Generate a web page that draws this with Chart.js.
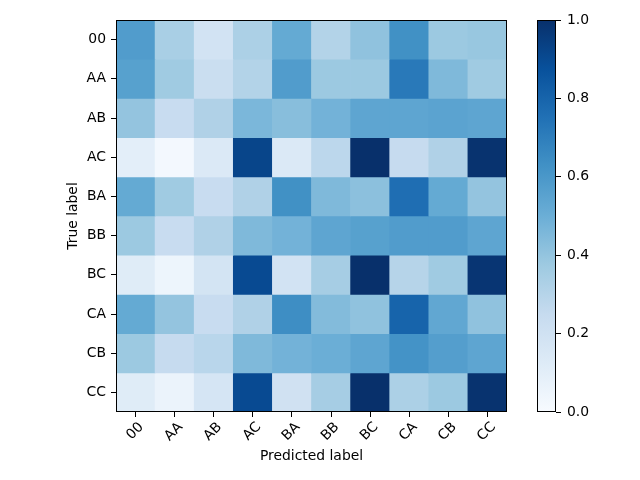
<!DOCTYPE html>
<html>
<head>
<meta charset="utf-8">
<script src="https://cdn.jsdelivr.net/npm/chart.js@4.4.1/dist/chart.umd.min.js"></script>
<style>
  html, body { margin: 0; padding: 0; background: #fff; }
  #wrap { position: relative; width: 640px; height: 480px; }
  #main { position: absolute; left: 0; top: 0; }
  #cbar { position: absolute; left: 520px; top: 0; }
</style>
</head>
<body>
<div id="wrap">
  <canvas id="main" width="640" height="480"></canvas>
  <canvas id="cbar" width="120" height="480"></canvas>
</div>
<script>
// ---- data ----
const predictedLabels = ['00', 'AA', 'AB', 'AC', 'BA', 'BB', 'BC', 'CA', 'CB', 'CC'];
const trueLabels      = ['00', 'AA', 'AB', 'AC', 'BA', 'BB', 'BC', 'CA', 'CB', 'CC'];

const row00 = [0.58, 0.34, 0.19, 0.33, 0.52, 0.31, 0.41, 0.63, 0.38, 0.39];
const rowAA = [0.56, 0.37, 0.23, 0.31, 0.58, 0.38, 0.38, 0.72, 0.45, 0.37];
const rowAB = [0.40, 0.24, 0.32, 0.46, 0.43, 0.48, 0.54, 0.54, 0.55, 0.54];
const rowAC = [0.10, 0.02, 0.14, 0.92, 0.14, 0.28, 1.00, 0.25, 0.32, 0.99];
const rowBA = [0.52, 0.37, 0.24, 0.32, 0.63, 0.45, 0.42, 0.76, 0.52, 0.40];
const rowBB = [0.38, 0.24, 0.32, 0.45, 0.48, 0.54, 0.56, 0.58, 0.58, 0.54];
const rowBC = [0.12, 0.05, 0.18, 0.90, 0.19, 0.35, 1.00, 0.30, 0.37, 0.98];
const rowCA = [0.52, 0.40, 0.24, 0.32, 0.64, 0.44, 0.41, 0.80, 0.53, 0.41];
const rowCB = [0.38, 0.25, 0.29, 0.45, 0.48, 0.50, 0.54, 0.62, 0.57, 0.54];
const rowCC = [0.12, 0.06, 0.17, 0.90, 0.20, 0.35, 1.00, 0.33, 0.38, 0.99];

const rows = [row00, rowAA, rowAB, rowAC, rowBA, rowBB, rowBC, rowCA, rowCB, rowCC];

const colorbarTicks = [0, 0.2, 0.4, 0.6, 0.8, 1.0];

// ---- Blues colormap ----
const bluesStops = [
  [247,251,255],[222,235,247],[198,219,239],[158,202,225],[107,174,214],
  [66,146,198],[33,113,181],[8,81,156],[8,48,107]
];
function blues(v) {
  v = Math.max(0, Math.min(1, v));
  const p = v * (bluesStops.length - 1);
  const i = Math.min(Math.floor(p), bluesStops.length - 2);
  const t = p - i;
  const a = bluesStops[i], b = bluesStops[i + 1];
  const c = a.map((x, k) => Math.round(x + (b[k] - x) * t));
  return `rgb(${c[0]},${c[1]},${c[2]})`;
}

const FONT = { family: 'DejaVu Sans', size: 13.9 };

const framePlugin = {
  id: 'frame',
  afterDraw(chart) {
    const { ctx, chartArea: a } = chart;
    ctx.save();
    ctx.strokeStyle = '#000';
    ctx.lineWidth = 1;
    ctx.strokeRect(Math.round(a.left) + 0.5, Math.round(a.top) + 0.5,
                   Math.round(a.right - a.left) - 1, Math.round(a.bottom - a.top) - 1);
    ctx.restore();
  }
};

// ---- main heatmap ----
const datasets = rows.map((r, i) => ({
  label: trueLabels[i],
  data: r.map(() => [i - 0.5, i + 0.5]),
  backgroundColor: r.map(v => blues(v)),
  borderWidth: 0,
  barPercentage: 1,
  categoryPercentage: 1,
  grouped: false
}));

new Chart(document.getElementById('main'), {
  type: 'bar',
  data: { labels: predictedLabels, datasets },
  plugins: [framePlugin],
  options: {
    responsive: false,
    animation: false,
    events: [],
    layout: { padding: { left: 61, top: 20, right: 133, bottom: 11 } },
    plugins: { legend: { display: false }, tooltip: { enabled: false } },
    scales: {
      x: {
        type: 'category',
        offset: true,
        grid: { offset: false, drawOnChartArea: false, drawTicks: true, tickLength: 5, color: '#000', lineWidth: 1 },
        border: { display: false },
        ticks: { color: '#000', font: FONT, minRotation: 45, maxRotation: 45, padding: 2, labelOffset: 6, autoSkip: false },
        title: { display: true, text: 'Predicted label', color: '#000', font: FONT, padding: { top: 4, bottom: 4 } },
        afterFit(s) { s.height = 57; }
      },
      y: {
        type: 'linear',
        min: -0.5,
        max: 9.5,
        reverse: true,
        grid: { drawOnChartArea: false, drawTicks: true, tickLength: 5, color: '#000', lineWidth: 1 },
        border: { display: false },
        afterBuildTicks(s) { s.ticks = trueLabels.map((_, i) => ({ value: i })); },
        ticks: { color: '#000', font: FONT, padding: 5, callback: (v) => trueLabels[Math.round(v)] },
        title: { display: true, text: 'True label', color: '#000', font: FONT, padding: { top: 4, bottom: 4 } },
        afterFit(s) { s.width = 55; }
      }
    }
  }
});

// ---- colorbar ----
new Chart(document.getElementById('cbar'), {
  type: 'bar',
  data: {
    labels: ['scale'],
    datasets: [{
      data: [[0, 1]],
      borderWidth: 0,
      barPercentage: 1,
      categoryPercentage: 1,
      backgroundColor(ctx) {
        const a = ctx.chart.chartArea;
        if (!a) return blues(0.5);
        const g = ctx.chart.ctx.createLinearGradient(0, a.bottom, 0, a.top);
        bluesStops.forEach((c, k) => g.addColorStop(k / (bluesStops.length - 1), `rgb(${c[0]},${c[1]},${c[2]})`));
        return g;
      }
    }]
  },
  plugins: [framePlugin],
  options: {
    responsive: false,
    animation: false,
    events: [],
    layout: { padding: { left: 17, top: 20, right: 0, bottom: 68 } },
    plugins: { legend: { display: false }, tooltip: { enabled: false } },
    scales: {
      x: { display: false },
      y: {
        position: 'right',
        min: 0,
        max: 1,
        afterBuildTicks(s) { s.ticks = colorbarTicks.map(v => ({ value: v })); },
        grid: { drawOnChartArea: false, drawTicks: true, tickLength: 5, color: '#000', lineWidth: 1 },
        border: { display: false },
        ticks: { color: '#000', font: FONT, padding: 6, callback: (v) => Number(v).toFixed(1) },
        afterFit(s) { s.width = 84; }
      }
    }
  }
});
</script>
</body>
</html>
